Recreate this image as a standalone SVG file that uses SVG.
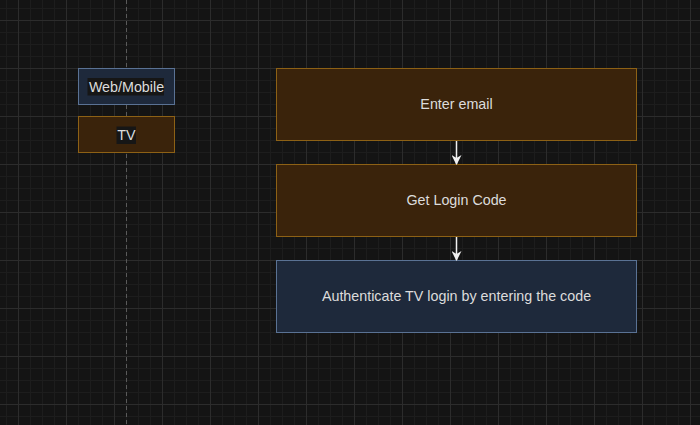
<svg xmlns="http://www.w3.org/2000/svg" width="700" height="425" viewBox="0 0 700 425">
<defs>
<pattern id="minor" x="6" y="8" width="12" height="12" patternUnits="userSpaceOnUse">
<path d="M0 0.5H12M0.5 0V12" stroke="#1d1d1d" stroke-width="1" fill="none"/>
</pattern>
<pattern id="major" x="18" y="20" width="48" height="48" patternUnits="userSpaceOnUse">
<path d="M0 0.5H48M0.5 0V48" stroke="#2c2c2c" stroke-width="1" fill="none"/>
</pattern>
<marker id="arr" viewBox="0 0 10 10" refX="9" refY="5" markerWidth="10" markerHeight="10" markerUnits="userSpaceOnUse" orient="auto">
<path d="M0 0L10 5L0 10L3 5Z" fill="#f0f0f0"/>
</marker>
<style>
.brown{fill:#3a230b;stroke:#8d6115;stroke-width:1}
.navy{fill:#1e293b;stroke:#5a7294;stroke-width:1}
text{font-family:"Liberation Sans",Arial,sans-serif;font-size:14.3px;fill:#dcdcdc;text-anchor:middle;dominant-baseline:central}
.lbl{fill:#161616}
.conn{stroke:#f0f0f0;stroke-width:1.5;fill:none}
</style>
</defs>
<rect width="700" height="425" fill="#141414"/>
<rect width="700" height="425" fill="url(#minor)"/>
<rect width="700" height="425" fill="url(#major)"/>
<line x1="126.5" y1="0" x2="126.5" y2="425" stroke="#5a5a5a" stroke-width="1" stroke-dasharray="4 3"/>
<g id="web-mobile">
<rect class="navy" x="78.5" y="68.5" width="96" height="36"/>
<rect class="lbl" x="87.5" y="78" width="76.5" height="17.5"/>
<text x="126.5" y="86.5">Web/Mobile</text>
</g>
<g id="tv">
<rect class="brown" x="78.5" y="116.5" width="96" height="36"/>
<rect class="lbl" x="116.5" y="126.5" width="19.5" height="17.5"/>
<text x="126.5" y="134.5">TV</text>
</g>
<g id="enter-email">
<rect class="brown" x="276.5" y="68.5" width="360" height="72"/>
<text x="456.5" y="104">Enter email</text>
</g>
<g id="get-login-code">
<rect class="brown" x="276.5" y="164.5" width="360" height="72"/>
<text x="456.5" y="200">Get Login Code</text>
</g>
<g id="authenticate">
<rect class="navy" x="276.5" y="260.5" width="360" height="72"/>
<text x="456.5" y="296">Authenticate TV login by entering the code</text>
</g>
<g id="connectors">
<line class="conn" x1="456.5" y1="141" x2="456.5" y2="164" marker-end="url(#arr)"/>
<line class="conn" x1="456.5" y1="237" x2="456.5" y2="260" marker-end="url(#arr)"/>
</g>
</svg>
